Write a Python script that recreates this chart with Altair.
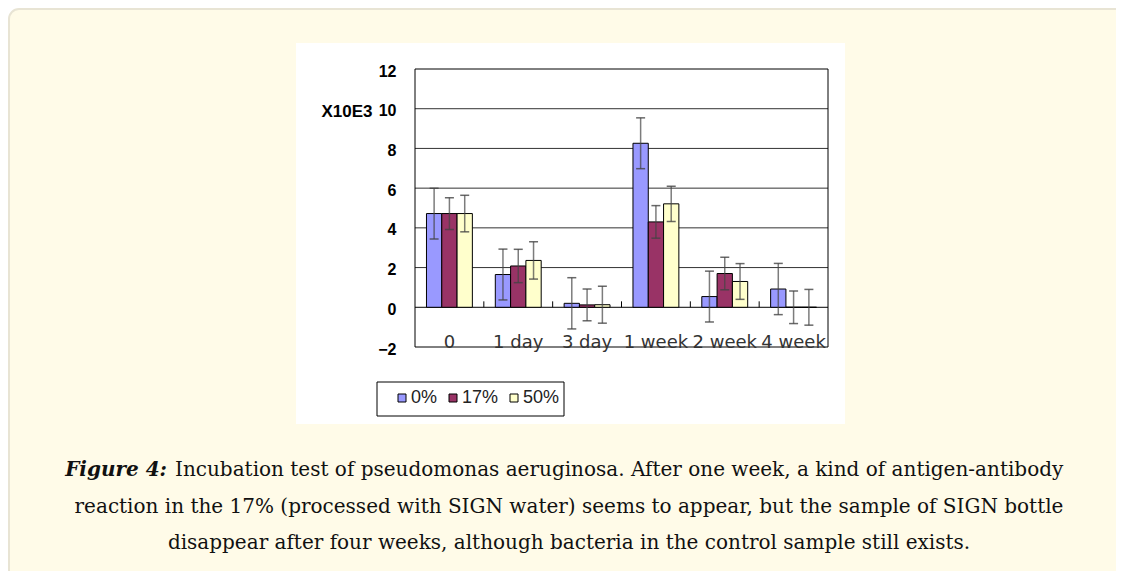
import altair as alt
import pandas as pd

# ---------------- data ----------------
categories = ["0", "1 day", "3 day", "1 week", "2 week", "4 week"]
series = ["0%", "17%", "50%"]
colors = ["#9999FF", "#993366", "#FFFFCC"]

values_0 = [4.72, 1.65, 0.2, 8.26, 0.54, 0.92]
values_17 = [4.72, 2.08, 0.12, 4.3, 1.7, 0.0]
values_50 = [4.72, 2.36, 0.13, 5.21, 1.3, 0.0]

errors_0 = [1.28, 1.28, 1.29, 1.28, 1.28, 1.29]
errors_17 = [0.8, 0.84, 0.8, 0.82, 0.82, 0.82]
errors_50 = [0.92, 0.94, 0.93, 0.89, 0.9, 0.9]

y_ticks = [-2, 0, 2, 4, 6, 8, 10, 12]
grid_values = [2, 4, 6, 8, 10]
y_unit = "X10E3"

caption_head = "Figure 4:"
caption_lines = [
    "Incubation test of pseudomonas aeruginosa. After one week, a kind of  antigen-antibody",
    "reaction in the 17% (processed with SIGN water) seems to appear, but the sample of SIGN bottle",
    "disappear after four weeks, although bacteria in the control sample still exists.",
]

rows = []
for s, vals, errs in [("0%", values_0, errors_0), ("17%", values_17, errors_17), ("50%", values_50, errors_50)]:
    for c, v, e in zip(categories, vals, errs):
        rows.append({"cat": c, "series": s, "value": v, "lo": v - e, "hi": v + e})
df = pd.DataFrame(rows)

grid_df = pd.DataFrame({"value": grid_values})
zero_df = pd.DataFrame({"value": [0]})
bound_df = pd.DataFrame({"cat": categories[1:], "value": [0] * 5, "value2": [0.3] * 5})
one = pd.DataFrame({"k": [0]})

W, H = 413, 278

# ---------------- encodings ----------------
def xenc(band=None):
    kw = {}
    if band is not None:
        kw["bandPosition"] = band
    return alt.X(
        "cat:N",
        sort=categories,
        scale=alt.Scale(domain=categories, paddingInner=0, paddingOuter=0),
        axis=alt.Axis(
            title=None, labelAngle=0, domain=False, ticks=False,
            labelFont="DejaVu Sans", labelFontSize=18, labelColor="#333",
            labelBaseline="top", offset=-14, labelPadding=0, zindex=1,
        ),
        **kw,
    )


def yenc(field="value"):
    return alt.Y(
        f"{field}:Q",
        scale=alt.Scale(domain=[-2, 12], nice=False, zero=False),
        axis=alt.Axis(
            values=y_ticks, grid=False, domain=False, ticks=False,
            labelFont="Liberation Sans", labelFontSize=16, labelFontWeight="bold",
            labelColor="black", labelPadding=19, labelOffset=2,
            title=y_unit, titleAngle=0, titleX=-43, titleY=42,
            titleAlign="right", titleBaseline="middle",
            titleFont="Liberation Sans", titleFontSize=17, titleFontWeight="bold",
            titleColor="black", zindex=1,
        ),
    )


xoff = alt.XOffset("series:N", sort=series,
                   scale=alt.Scale(domain=series, paddingInner=0, paddingOuter=0.75))

# ---------------- decorative boxes ----------------
cream = alt.Chart(one).mark_rect(
    fill="#FFFBE8", stroke="#E8E4D4", strokeWidth=2, cornerRadius=10
).encode(x=alt.value(-406), x2=alt.value(760), y=alt.value(-60), y2=alt.value(560))

white_box = alt.Chart(one).mark_rect(fill="white").encode(
    x=alt.value(-119), x2=alt.value(430), y=alt.value(-26), y2=alt.value(355)
)

legend_box = alt.Chart(one).mark_rect(fill="white", stroke="black", strokeWidth=1).encode(
    x=alt.value(-38), x2=alt.value(149), y=alt.value(313), y2=alt.value(347)
)

# ---------------- plot ----------------
grid = alt.Chart(grid_df).mark_rule(color="#333", strokeWidth=1).encode(
    y=yenc(), x=alt.value(0), x2=alt.value(W)
)

zero_line = alt.Chart(zero_df).mark_rule(color="black", strokeWidth=1).encode(
    y=yenc(), x=alt.value(0), x2=alt.value(W)
)

bars = alt.Chart(df).mark_bar(stroke="black", strokeWidth=1).encode(
    x=xenc(),
    xOffset=xoff,
    y=yenc(),
    color=alt.Color(
        "series:N",
        sort=series,
        scale=alt.Scale(domain=series, range=colors),
        legend=alt.Legend(
            title=None, orient="none", legendX=-22, legendY=320,
            direction="horizontal", symbolType="square", symbolSize=64,
            symbolStrokeColor="black", symbolStrokeWidth=1,
            labelFont="Liberation Sans", labelFontSize=18, labelColor="#222",
            labelOffset=0, columnPadding=6, padding=0, zindex=1,
        ),
    ),
)

err_rule = alt.Chart(df).mark_rule(color="#444", opacity=0.7, strokeWidth=1.5).encode(
    x=xenc(), xOffset=xoff, y=yenc("lo"), y2="hi:Q"
)
cap_lo = alt.Chart(df).mark_tick(color="#444", opacity=0.8, thickness=1.5, size=9).encode(
    x=xenc(), xOffset=xoff, y=yenc("lo")
)
cap_hi = alt.Chart(df).mark_tick(color="#444", opacity=0.8, thickness=1.5, size=9).encode(
    x=xenc(), xOffset=xoff, y=yenc("hi")
)

bound_ticks = alt.Chart(bound_df).mark_rule(color="black", strokeWidth=1).encode(
    x=xenc(band=0), y=yenc(), y2="value2:Q"
)

border = alt.Chart(one).mark_rect(fillOpacity=0, stroke="black", strokeWidth=1).encode(
    x=alt.value(0), x2=alt.value(W), y=alt.value(0), y2=alt.value(H)
)

# ---------------- caption ----------------
cap_head = alt.Chart(one).mark_text(
    text=caption_head, font="DejaVu Serif", fontSize=20, fontStyle="italic",
    fontWeight="bold", align="right", baseline="alphabetic", color="#111",
).encode(x=alt.value(-248), y=alt.value(407))

cap1 = alt.Chart(one).mark_text(
    text=caption_lines[0], font="DejaVu Serif", fontSize=20, align="left",
    baseline="alphabetic", color="#111",
).encode(x=alt.value(-240), y=alt.value(407))

cap2 = alt.Chart(one).mark_text(
    text=caption_lines[1], font="DejaVu Serif", fontSize=20, align="center",
    baseline="alphabetic", color="#111",
).encode(x=alt.value(154), y=alt.value(444))

cap3 = alt.Chart(one).mark_text(
    text=caption_lines[2], font="DejaVu Serif", fontSize=20, align="center",
    baseline="alphabetic", color="#111",
).encode(x=alt.value(154), y=alt.value(480))

chart = alt.layer(
    cream, white_box, legend_box, grid, zero_line, bars, err_rule, cap_lo, cap_hi,
    bound_ticks, border, cap_head, cap1, cap2, cap3,
).properties(
    width=W,
    height=H,
    padding={"left": 407, "top": 61, "right": 288, "bottom": 224},
    autosize=alt.AutoSizeParams(type="none"),
    background="white",
).configure_view(stroke=None)

chart.save("out.html", embed_options={"renderer": "svg", "actions": False})
